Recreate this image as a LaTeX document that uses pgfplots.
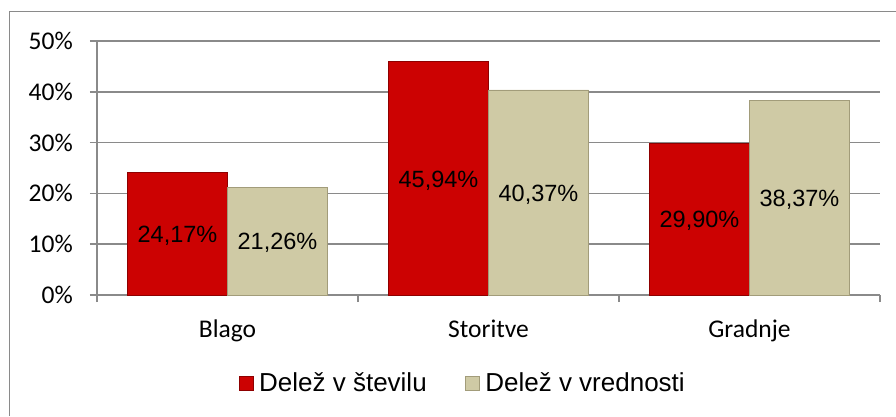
\documentclass[border=0pt]{standalone}
\usepackage{pgfplots}
\pgfplotsset{compat=1.18}
\usepackage{fontspec}
\setmainfont{Liberation Sans}
\newfontfamily\carlito{Carlito}
\definecolor{barred}{HTML}{CC0202}
\definecolor{barredd}{HTML}{8E0000}
\definecolor{barbeige}{HTML}{CFCAA5}
\definecolor{barbeiged}{HTML}{A29C7A}
\definecolor{gridgray}{HTML}{8A8A8A}
\begin{document}
\begin{tikzpicture}
\path[use as bounding box] (0,0) rectangle (896pt,416pt);
\draw[gridgray, line width=1.5pt] (9.5pt,0pt) -- (9.5pt,404.5pt) -- (896pt,404.5pt);
\begin{axis}[
  at={(97pt,121pt)}, anchor=south west,
  scale only axis, width=783pt, height=254pt,
  xmin=-0.5, xmax=2.5, ymin=0, ymax=50,
  axis lines*=left, axis line style={gridgray, line width=1.5pt, -},
  ybar=0pt, bar width=100pt,
  xtick={0,1,2}, xticklabels={Blago,Storitve,Gradnje},
  minor xtick={-0.5,0.5,1.5,2.5},
  major x tick style={draw=none},
  minor x tick style={gridgray, line width=1.5pt},
  minor tick length=7pt,
  ytick={0,10,20,30,40,50},
  yticklabels={0\%,10\%,20\%,30\%,40\%,50\%},
  major y tick style={gridgray, line width=1.5pt},
  major tick length=7pt,
  tick align=outside,
  ymajorgrids, major grid style={gridgray, line width=1.5pt},
  every tick label/.append style={inner sep=0pt, font=\carlito\fontsize{25.5}{30}\selectfont},
  yticklabel style={xshift=-17pt},
  xticklabel style={yshift=-18pt},
  nodes near coords={\pgfmathprintnumber[fixed,fixed zerofill,precision=2,use comma,assume math mode=true]{\pgfplotspointmeta}\%},
  visualization depends on={y/2 \as \halfy},
  every node near coord/.append style={anchor=center, font=\fontsize{23.5}{28}\selectfont, text=black, shift={(axis direction cs:0,-\halfy)}, yshift=-2pt},
  legend style={at={(axis description cs:0.467,-0.346)}, anchor=center, draw=none, fill=none,
    legend columns=2, font=\fontsize{26}{30}\selectfont,
    /tikz/every even column/.append style={column sep=36pt},
    inner sep=0pt},
  legend image code/.code={\draw[#1] (0pt,-7pt) rectangle (14pt,7pt); \path (18pt,0pt);},
]
\addplot[fill=barred, draw=barredd, line width=0.6pt] coordinates {(0,24.17) (1,45.94) (2,29.90)};
\addplot[fill=barbeige, draw=barbeiged, line width=0.6pt] coordinates {(0,21.26) (1,40.37) (2,38.37)};
\legend{Delež v številu, Delež v vrednosti}
\end{axis}
\end{tikzpicture}
\end{document}
